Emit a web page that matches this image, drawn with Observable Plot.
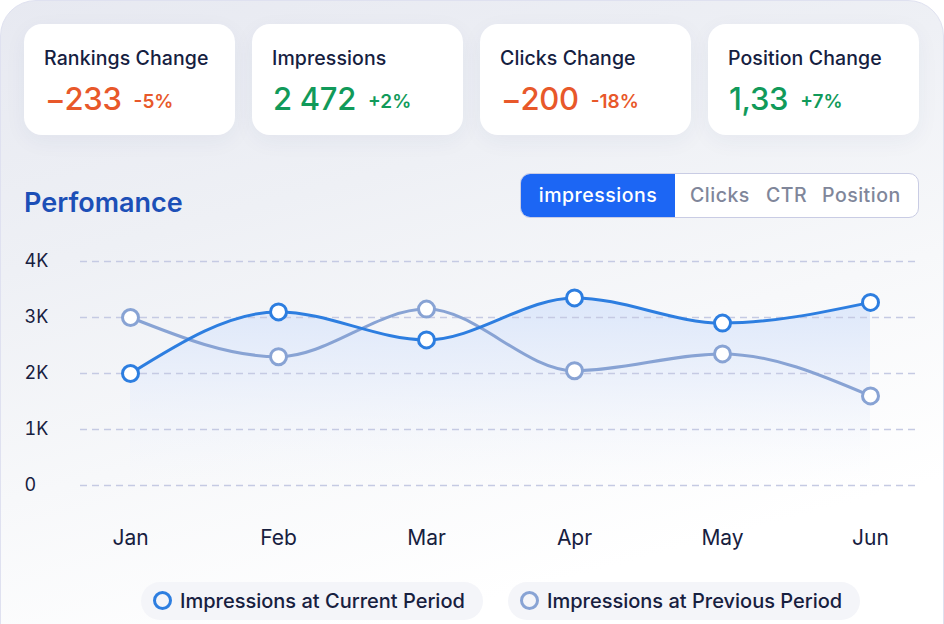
<!DOCTYPE html>
<html>
<head>
<meta charset="utf-8">
<script src="https://cdn.jsdelivr.net/npm/d3@7"></script>
<script src="https://cdn.jsdelivr.net/npm/@observablehq/plot@0.6"></script>
<style>
  html, body { margin: 0; padding: 0; background: #ffffff; }
  body { width: 944px; height: 624px; position: relative; overflow: hidden; font-family: Inter, "Noto Sans", sans-serif; }
  .panel { position: absolute; left: 0; top: 0; width: 942px; height: 660px; border-radius: 36px;
    border: 1px solid #dfe1f0;
    background: linear-gradient(165deg, #e7e9f1 0%, #eef0f5 30%, #f7f8fa 55%, #ffffff 80%); }
  .kpi { position: absolute; top: 24px; width: 211px; height: 111px; background: #fff; border-radius: 18px;
    box-shadow: 0 6px 22px rgba(40,50,110,0.05); }
  .kpi .t { position: absolute; left: 20px; top: 34px; font-size: 19.5px; font-weight: 500; color: #15203f; line-height: 0; letter-spacing: 0.1px; }
  .kpi .v { position: absolute; left: 21px; top: 75px; line-height: 0; white-space: nowrap; }
  .kpi .v .n { font-size: 31px; font-weight: 500; letter-spacing: -0.3px; }
  .kpi .v .p { font-size: 19px; font-weight: 600; margin-left: 12px; position: relative; top: -2px; }
  .neg { color: #e8582a; }
  .pos { color: #119a5a; }
  .title { position: absolute; left: 24px; top: 203px; line-height: 0; font-size: 27px; font-weight: 600; color: #1c4fb7; }
  .tabs { position: absolute; left: 520px; top: 173px; width: 397px; height: 43px; border: 1.5px solid #c9cce4; border-radius: 10px; background: #fff; overflow: hidden; }
  .tab { position: absolute; top: 0; height: 43px; line-height: 43px; font-size: 19.5px; font-weight: 500; color: #80869a; letter-spacing: 0.5px; }
  .tab.active { left: 0; width: 154px; background: #1c66f4; color: #fff; text-align: center; }
  .legend { position: absolute; top: 582px; height: 38px; border-radius: 19px; background: #f4f5f9; }
  .legend .c { position: absolute; left: 12px; top: 9px; border-radius: 50%; border: 3px solid; box-sizing: content-box; width: 13px; height: 13px; }
  .legend .l { position: absolute; left: 39px; top: 19px; line-height: 0; font-size: 20px; font-weight: 500; color: #17203f; white-space: nowrap; }
  #chart { position: absolute; left: 0; top: 230px; }
</style>
</head>
<body>
<div class="panel"></div>
<div id="kpis"></div>
<div class="title">Perfomance</div>
<div class="tabs" id="tabs"></div>
<div id="chart"></div>
<div id="legend"></div>
<script>
// ---- data ----
const kpiTitles = ["Rankings Change", "Impressions", "Clicks Change", "Position Change"];
const kpiValues = ["−233", "2 472", "−200", "1,33"];
const kpiPercents = ["-5%", "+2%", "-18%", "+7%"];
const kpiPositive = [false, true, false, true];

const tabLabels = ["impressions", "Clicks", "CTR", "Position"];

const months = ["Jan", "Feb", "Mar", "Apr", "May", "Jun"];
const current = [2000, 3100, 2600, 3350, 2900, 3270];
const previous = [3000, 2300, 3150, 2050, 2350, 1600];

const yTicks = [0, 1000, 2000, 3000, 4000];
const yTickLabels = ["0", "1K", "2K", "3K", "4K"];

const seriesNames = ["Impressions at Current Period", "Impressions at Previous Period"];
const seriesColors = ["#2d7ee0", "#88a3d4"];

// ---- KPI cards ----
const kpiLeft = [24, 252, 480, 708];
const kpis = document.getElementById("kpis");
kpiTitles.forEach((t, i) => {
  const d = document.createElement("div");
  d.className = "kpi";
  d.style.left = kpiLeft[i] + "px";
  const cls = kpiPositive[i] ? "pos" : "neg";
  d.innerHTML = `<div class="t">${t}</div><div class="v ${cls}"><span class="n">${kpiValues[i]}</span><span class="p">${kpiPercents[i]}</span></div>`;
  kpis.appendChild(d);
});

// ---- tabs ----
const tabLeft = [0, 169, 245, 301];
const tabs = document.getElementById("tabs");
tabLabels.forEach((t, i) => {
  const d = document.createElement("div");
  d.className = "tab" + (i === 0 ? " active" : "");
  if (i > 0) d.style.left = tabLeft[i] + "px";
  d.textContent = t;
  tabs.appendChild(d);
});

// ---- chart ----
const data = months.map((m, i) => ({month: m, current: current[i], previous: previous[i]}));

const gradient = () => {
  const defs = d3.create("svg:defs");
  const g = defs.append("linearGradient").attr("id", "areaGrad").attr("x1", 0).attr("y1", 0).attr("x2", 0).attr("y2", 1);
  g.append("stop").attr("offset", "0%").attr("stop-color", "#d9e5fa").attr("stop-opacity", 0.9);
  g.append("stop").attr("offset", "45%").attr("stop-color", "#e6edfb").attr("stop-opacity", 0.65);
  g.append("stop").attr("offset", "100%").attr("stop-color", "#f3f6fd").attr("stop-opacity", 0);
  return defs.node();
};

const chart = Plot.plot({
  width: 944,
  height: 330,
  marginTop: 31,
  marginBottom: 75,
  marginLeft: 80,
  marginRight: 24,
  style: {background: "transparent", fontFamily: "Inter, 'Noto Sans', sans-serif", color: "#17203f", overflow: "visible"},
  x: {type: "point", domain: months, padding: 50 / 148, label: null},
  y: {domain: [0, 4000], label: null},
  marks: [
    gradient,
    Plot.areaY(data, {x: "month", y: "current", curve: "monotone-x", fill: "url(#areaGrad)"}),
    Plot.gridY(yTicks, {stroke: "#c5cae3", strokeOpacity: 1, strokeWidth: 1.4, strokeDasharray: "7,5"}),
    Plot.axisY(yTicks, {tickSize: 0, tickPadding: 0, textAnchor: "start", dx: -56, fontSize: 18, fill: "#17203f", label: null,
      tickFormat: d => yTickLabels[yTicks.indexOf(d)]}),
    Plot.axisX({tickSize: 0, tickPadding: 45, fontSize: 21, fill: "#17203f", label: null}),
    Plot.line(data, {x: "month", y: "previous", curve: "monotone-x", stroke: seriesColors[1], strokeWidth: 3}),
    Plot.line(data, {x: "month", y: "current", curve: "monotone-x", stroke: seriesColors[0], strokeWidth: 3}),
    Plot.dot(data, {x: "month", y: "previous", r: 8, fill: "#fff", stroke: seriesColors[1], strokeWidth: 3}),
    Plot.dot(data, {x: "month", y: "current", r: 8, fill: "#fff", stroke: seriesColors[0], strokeWidth: 3})
  ]
});
document.getElementById("chart").appendChild(chart);

// ---- legend ----
const legLeft = [141, 508];
const legWidth = [342, 352];
const legend = document.getElementById("legend");
seriesNames.forEach((n, i) => {
  const d = document.createElement("div");
  d.className = "legend";
  d.style.left = legLeft[i] + "px";
  d.style.width = legWidth[i] + "px";
  d.innerHTML = `<div class="c" style="border-color:${seriesColors[i]}"></div><div class="l">${n}</div>`;
  legend.appendChild(d);
});
</script>
</body>
</html>
